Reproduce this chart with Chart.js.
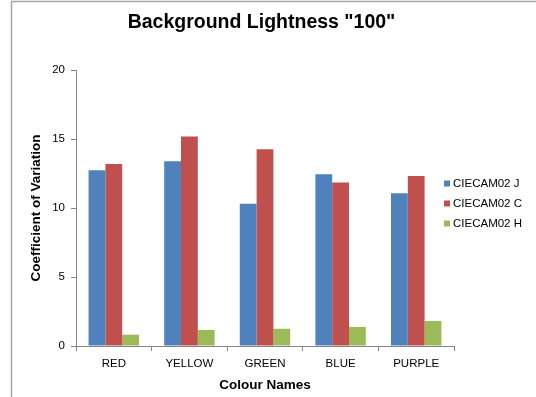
<!DOCTYPE html>
<html>
<head>
<meta charset="utf-8">
<title>Background Lightness "100"</title>
<script src="https://cdn.jsdelivr.net/npm/chart.js@4/dist/chart.umd.min.js"></script>
<style>
  html, body { margin: 0; padding: 0; background: #ffffff; }
  canvas { display: block; }
</style>
</head>
<body>
<canvas id="chart" width="536" height="397"></canvas>
<script>
// Colour categories on the x axis
const categories = ['RED', 'YELLOW', 'GREEN', 'BLUE', 'PURPLE'];

// Coefficient of variation for each CIECAM02 attribute
const ciecamJ = [12.73, 13.38, 10.31, 12.44, 11.06];
const ciecamC = [13.19, 15.19, 14.25, 11.84, 12.32];
const ciecamH = [0.82, 1.16, 1.25, 1.38, 1.81];

const seriesNames = ['CIECAM02 J', 'CIECAM02 C', 'CIECAM02 H'];
const seriesColors = ['#4F81BD', '#C0504D', '#9BBB59'];

// Value axis ticks
const yTickValues = [0, 5, 10, 15, 20];

const FONT = "'Liberation Sans', Arial, sans-serif";
const AXIS_GREY = '#868686';

// Thin frame along the top and left edges of the chart
const framePlugin = {
  id: 'frame',
  beforeDraw(chart) {
    const ctx = chart.ctx;
    ctx.save();
    ctx.strokeStyle = '#a6a6a6';
    ctx.lineWidth = 1.5;
    ctx.beginPath();
    ctx.moveTo(11.5, chart.height);
    ctx.lineTo(11.5, 1.5);
    ctx.lineTo(chart.width, 1.5);
    ctx.stroke();
    ctx.restore();
  }
};

// Legend listed to the right of the plot
const sideLegendPlugin = {
  id: 'sideLegend',
  afterDraw(chart) {
    const ctx = chart.ctx;
    const x = 444, y0 = 183.5, step = 20, box = 6;
    ctx.save();
    ctx.font = '11.5px ' + FONT;
    ctx.textBaseline = 'middle';
    ctx.textAlign = 'left';
    chart.data.datasets.forEach((ds, i) => {
      const y = y0 + i * step;
      ctx.fillStyle = ds.backgroundColor;
      ctx.fillRect(x, y - box / 2, box, box);
      ctx.fillStyle = '#000000';
      ctx.fillText(ds.label, x + 9, y);
    });
    ctx.restore();
  }
};

const seriesValues = [ciecamJ, ciecamC, ciecamH];

new Chart(document.getElementById('chart'), {
  type: 'bar',
  data: {
    labels: categories,
    datasets: seriesValues.map((values, i) => ({
      label: seriesNames[i],
      data: values,
      backgroundColor: seriesColors[i],
      borderWidth: 0,
      categoryPercentage: 0.667,
      barPercentage: 1.0
    }))
  },
  options: {
    responsive: false,
    animation: false,
    layout: { padding: { left: 0, right: 13, top: 0, bottom: 0 } },
    plugins: {
      legend: { display: false },
      tooltip: { enabled: false },
      title: {
        display: true,
        text: 'Background Lightness "100"',
        color: '#000000',
        font: { family: FONT, size: 19.5, weight: 'bold' },
        padding: { top: 11.3, bottom: 35.3 }
      }
    },
    scales: {
      x: {
        grid: {
          display: true,
          drawOnChartArea: false,
          offset: true,
          tickLength: 5,
          color: AXIS_GREY
        },
        border: { display: true, color: AXIS_GREY },
        ticks: {
          color: '#000000',
          font: { family: FONT, size: 11.5 },
          padding: 6,
          maxRotation: 0
        },
        title: {
          display: true,
          text: 'Colour Names',
          color: '#000000',
          font: { family: FONT, size: 13.5, weight: 'bold' },
          padding: { top: 0, bottom: 4 }
        },
        afterFit(scale) { scale.height = 51; }
      },
      y: {
        min: 0,
        max: 20,
        afterBuildTicks(scale) {
          scale.ticks = yTickValues.map(v => ({ value: v }));
        },
        grid: {
          display: true,
          drawOnChartArea: false,
          tickLength: 5,
          color: AXIS_GREY
        },
        border: { display: true, color: AXIS_GREY },
        ticks: {
          color: '#000000',
          font: { family: FONT, size: 11.5 },
          padding: 6
        },
        title: {
          display: true,
          text: 'Coefficient of Variation',
          color: '#000000',
          font: { family: FONT, size: 13.5, weight: 'bold' },
          padding: { top: 28.6, bottom: 0 }
        },
        afterFit(scale) { scale.width = 76; }
      },
      // Empty spacer axis reserving room for the legend column
      legendSpace: {
        position: 'right',
        display: true,
        grid: { display: false },
        border: { display: false },
        ticks: { display: false },
        afterFit(scale) { scale.width = 69; }
      }
    }
  },
  plugins: [framePlugin, sideLegendPlugin]
});
</script>
</body>
</html>
